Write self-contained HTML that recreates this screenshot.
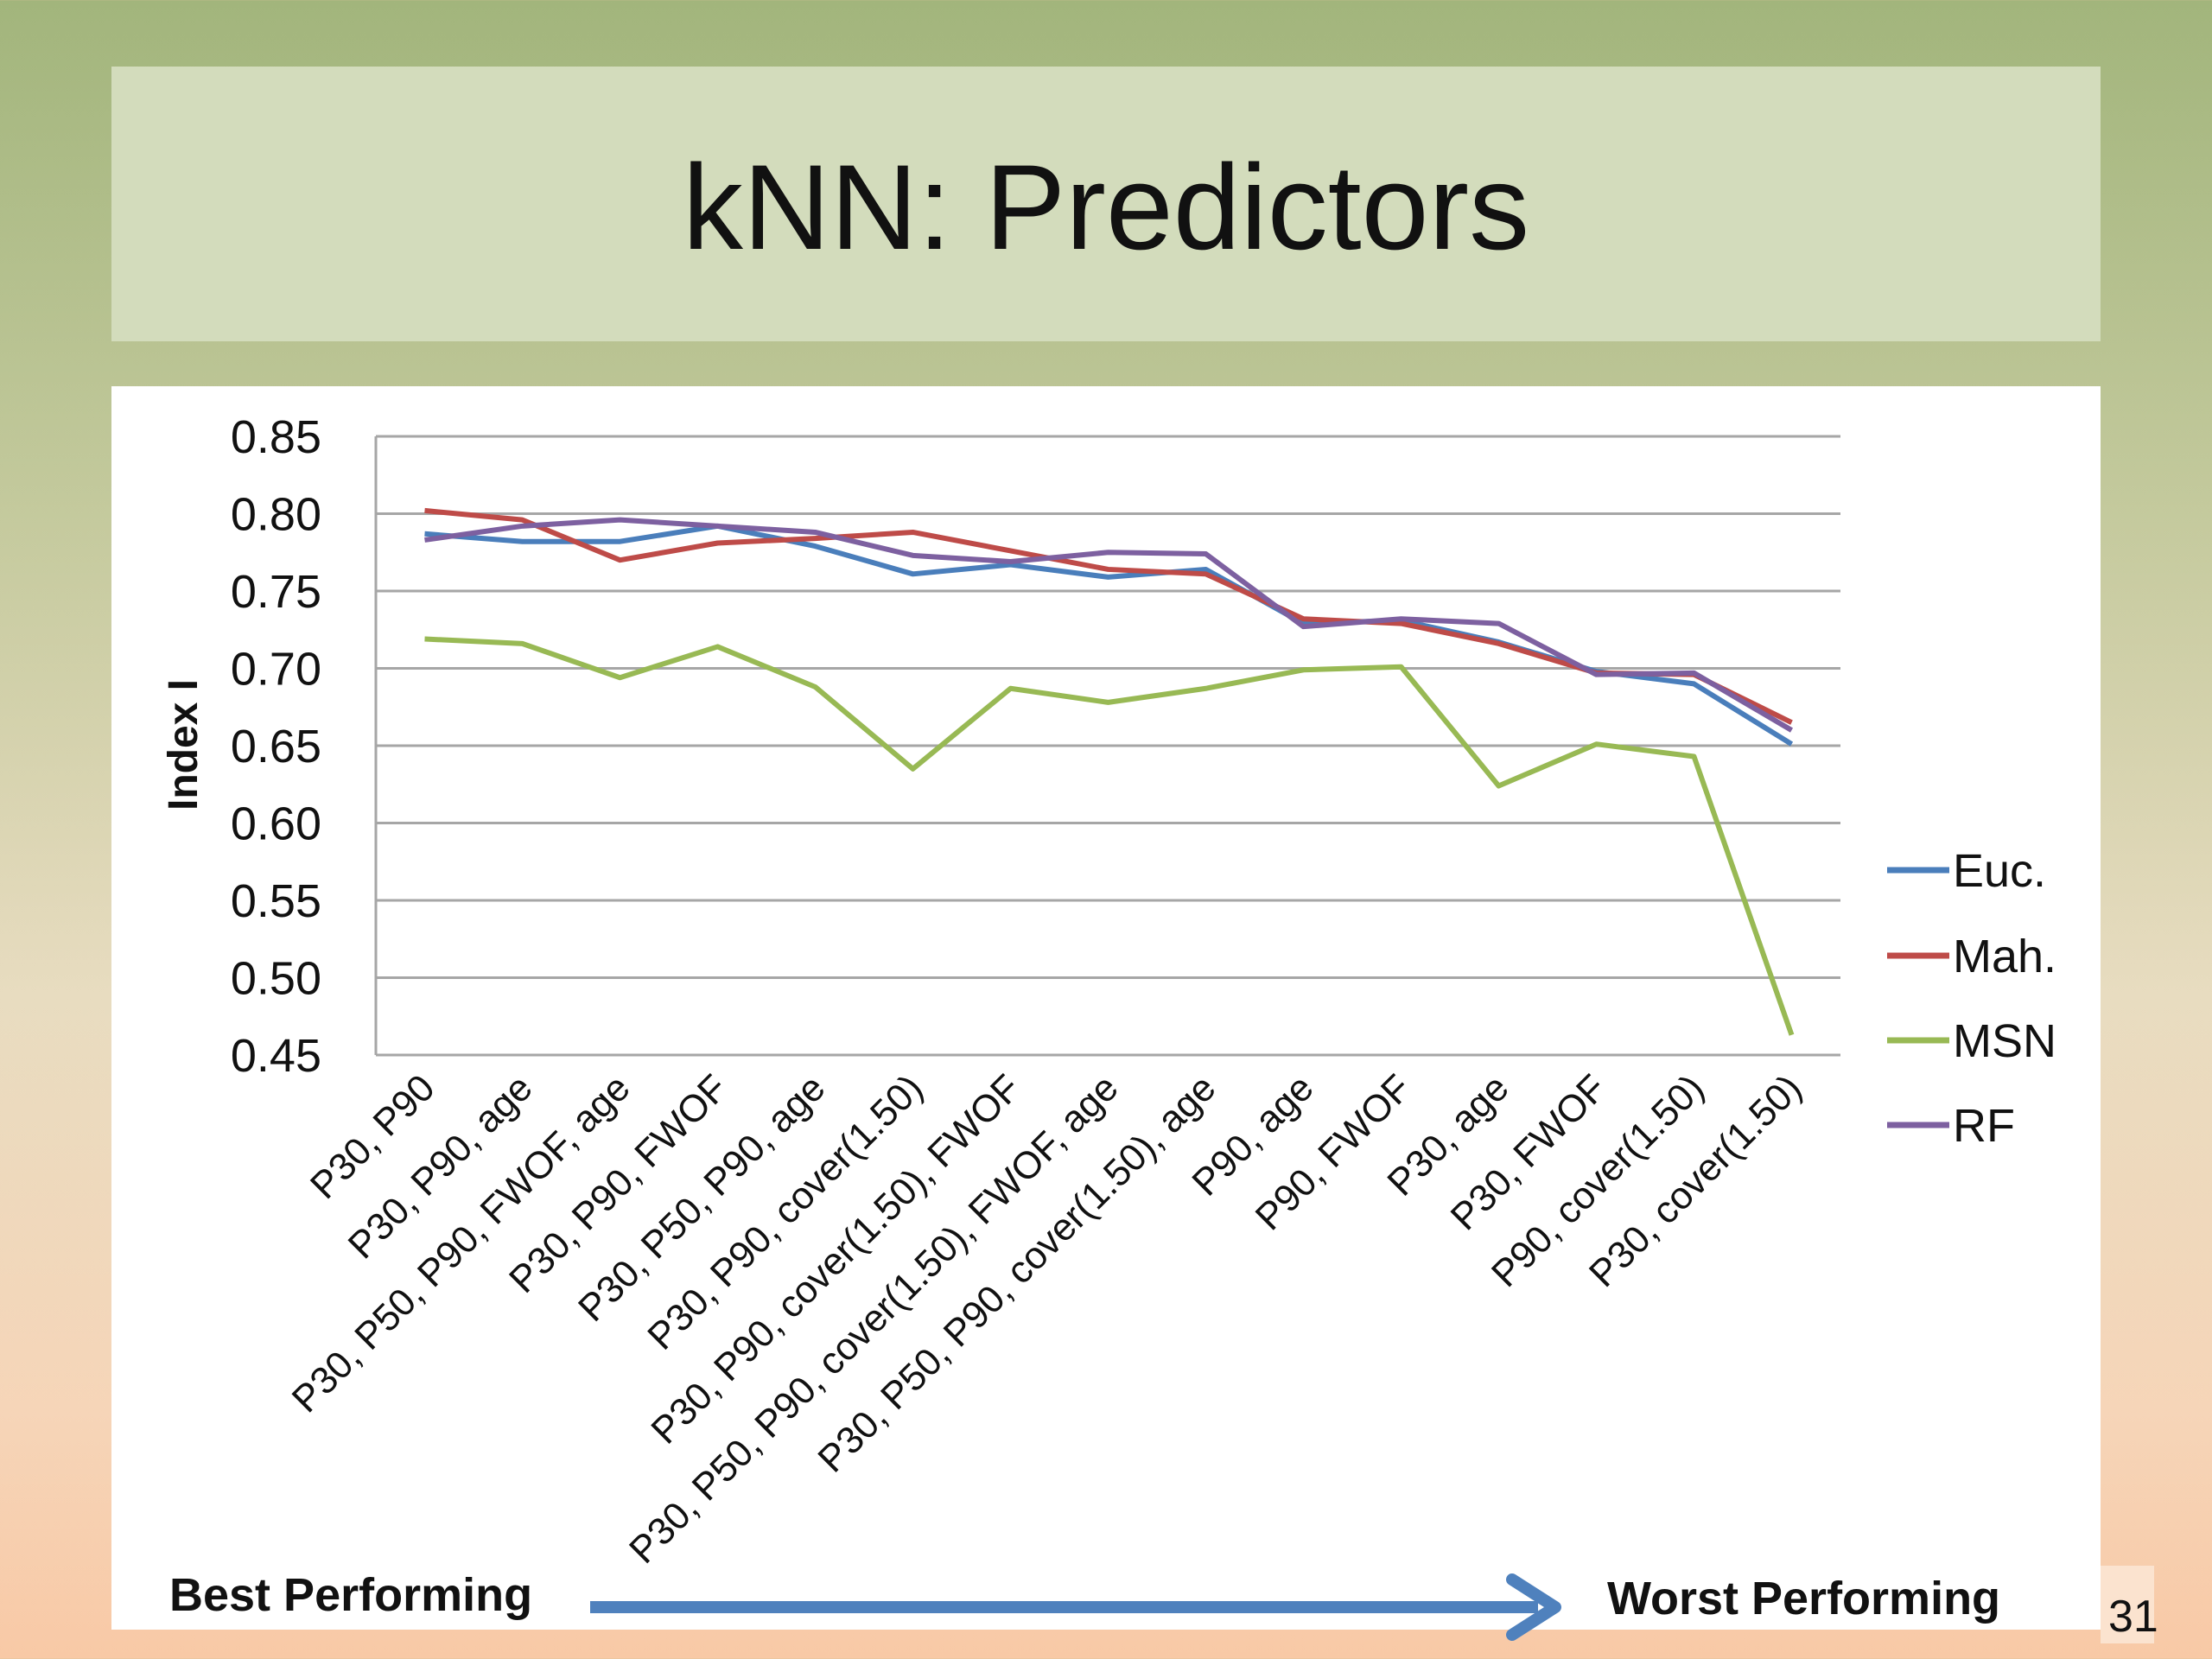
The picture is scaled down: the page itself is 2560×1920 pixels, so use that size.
<!DOCTYPE html>
<html><head><meta charset="utf-8">
<style>
html,body{margin:0;padding:0;width:2560px;height:1920px;overflow:hidden}
body{background:linear-gradient(to bottom,#a2b57c 0%,#c3c99c 30%,#e8dcc0 60%,#f6d5b8 85%,#f8c9a6 100%);font-family:"Liberation Sans",sans-serif}
svg text{font-family:"Liberation Sans",sans-serif}
</style></head>
<body>
<svg id="s" width="2560" height="1920" viewBox="0 0 2560 1920" xmlns="http://www.w3.org/2000/svg">
  <rect x="129" y="77" width="2302" height="318" fill="#d3dcbc"/>
  <text x="1280" y="288" font-size="140" text-anchor="middle" fill="#111">kNN: Predictors</text>
  <rect x="129" y="447" width="2302" height="1439" fill="#ffffff"/>
  <rect x="2431" y="1812" width="62" height="90" fill="#fbe3cf"/>
  <text x="2440" y="1888" font-size="52" fill="#111">31</text>
  <g id="grid"></g>
  <g id="ylab"></g>
  <g id="xlab"></g>
  <g id="lines"></g>
  <g id="legend"></g>
  <text transform="translate(228,862) rotate(-90)" font-size="48" font-weight="bold" text-anchor="middle" fill="#111">Index I</text>
  <text x="196" y="1864" font-size="54" font-weight="bold" fill="#111">Best Performing</text>
  <text x="1860" y="1868" font-size="54" font-weight="bold" fill="#111">Worst Performing</text>
  <line x1="683" y1="1860" x2="1780" y2="1860" stroke="#4f81bd" stroke-width="14"/>
  <polyline points="1750,1828 1800,1860 1750,1892" fill="none" stroke="#4f81bd" stroke-width="14" stroke-linecap="round" stroke-linejoin="round"/>
</svg>
<script>
const categories = ["P30, P90","P30, P90, age","P30, P50, P90, FWOF, age","P30, P90, FWOF","P30, P50, P90, age","P30, P90, cover(1.50)","P30, P90, cover(1.50), FWOF","P30, P50, P90, cover(1.50), FWOF, age","P30, P50, P90, cover(1.50), age","P90, age","P90, FWOF","P30, age","P30, FWOF","P90, cover(1.50)","P30, cover(1.50)"];
const euc = [0.787,0.782,0.782,0.792,0.779,0.761,0.767,0.759,0.764,0.729,0.731,0.717,0.698,0.690,0.651];
const mah = [0.802,0.796,0.770,0.781,0.784,0.788,0.776,0.764,0.761,0.732,0.729,0.716,0.697,0.696,0.665];
const msn = [0.719,0.716,0.694,0.714,0.688,0.635,0.687,0.678,0.687,0.699,0.701,0.624,0.651,0.643,0.463];
const rf  = [0.783,0.792,0.796,0.792,0.788,0.773,0.769,0.775,0.774,0.727,0.732,0.729,0.696,0.697,0.660];
const yTicks = ["0.45","0.50","0.55","0.60","0.65","0.70","0.75","0.80","0.85"];
const seriesNames = ["Euc.","Mah.","MSN","RF"];

const NS="http://www.w3.org/2000/svg";
const X0=435,X1=2130,Y0=1221,Y1=505,YMIN=0.45,YMAX=0.85;
const xs=i=>X0+(X1-X0)/categories.length*(i+0.5);
const ys=v=>Y0-(v-YMIN)/(YMAX-YMIN)*(Y0-Y1);
function mk(tag,attrs,parent){const e=document.createElementNS(NS,tag);for(const k in attrs)e.setAttribute(k,attrs[k]);parent.appendChild(e);return e;}
const grid=document.getElementById('grid'),ylab=document.getElementById('ylab'),xlab=document.getElementById('xlab'),lines=document.getElementById('lines'),legend=document.getElementById('legend');
yTicks.forEach(t=>{const v=parseFloat(t),y=ys(v);
  const l=mk('line',{x1:X0,x2:X1,y1:y,y2:y,stroke:'#a6a6a6','stroke-width':3},grid);
  
  
  const tx=mk('text',{x:372,y:y+19,'font-size':54,'text-anchor':'end',fill:'#111'},ylab);tx.textContent=t;
  
  
});
const ax=mk('line',{x1:X0,x2:X0,y1:Y1,y2:Y0,stroke:'#a6a6a6','stroke-width':3},grid);


categories.forEach((c,i)=>{const x=xs(i)+14,y=1262;
  const t=mk('text',{x:0,y:0,transform:`translate(${x},${y}) rotate(-45)`,'font-size':44,'text-anchor':'end',fill:'#111'},xlab);t.textContent=c;
  
  
});
const data=[euc,mah,msn,rf],colors=['#4a7ebb','#be4b48','#98b954','#7d60a0'];
data.forEach((d,k)=>{
  const p=mk('polyline',{points:d.map((v,i)=>xs(i)+','+ys(v)).join(' '),fill:'none',stroke:colors[k],'stroke-width':6,'stroke-linejoin':'round'},lines);
  
  
});
const ly=[1007,1106,1204,1302];
seriesNames.forEach((n,k)=>{
  const l=mk('line',{x1:2184,x2:2256,y1:ly[k],y2:ly[k],stroke:colors[k],'stroke-width':7},legend);
  
  
  const t=mk('text',{x:2260,y:ly[k]+19,'font-size':54,fill:'#111'},legend);t.textContent=n;
  
  
});
</script>
</body></html>
